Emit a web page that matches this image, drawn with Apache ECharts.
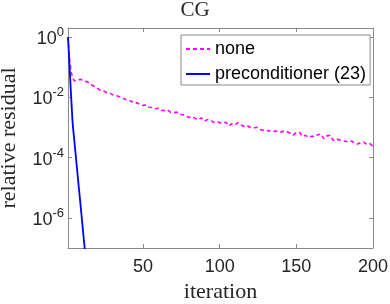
<!DOCTYPE html>
<html>
<head>
<meta charset="utf-8">
<script src="https://cdn.jsdelivr.net/npm/echarts@6/dist/echarts.min.js"></script>
<style>html,body{margin:0;padding:0;background:#fff;}#c{width:390px;height:304px;}</style>
</head>
<body>
<div id="c"></div>
<script>
// iteration numbers and log10(relative residual)
const noneIter = [1,2,3,4,5,6,7,8,9,10,12,14,16,18,20,22,24,26,28,30,32,34,36,38,40,42,44,46,48,50,
  52,54,56,58,60,62,64,66,68,70,72,74,76,78,80,82,84,86,88,90,92,94,96,98,100,
  102,104,106,108,110,112,114,116,118,120,122,124,126,128,130,132,134,136,138,140,
  142,144,146,148,150,152,154,156,158,160,162,164,166,168,170,172,174,176,178,180,
  182,184,186,188,190,192,194,196,198,200];
const noneLog10 = [0,-0.72,-1.15,-1.33,-1.45,-1.47,-1.44,-1.41,-1.40,-1.41,-1.45,-1.50,-1.58,-1.63,-1.70,-1.76,-1.78,-1.84,-1.86,-1.91,
  -1.92,-1.97,-2.00,-2.06,-2.10,-2.12,-2.19,-2.18,-2.24,-2.27,
  -2.25,-2.33,-2.34,-2.38,-2.36,-2.43,-2.44,-2.41,-2.50,-2.51,-2.49,-2.57,-2.58,-2.62,-2.67,-2.64,-2.70,-2.74,-2.68,-2.79,-2.74,-2.76,-2.83,-2.80,-2.84,
  -2.86,-2.83,-2.95,-2.87,-2.91,-2.84,-2.92,-2.97,-2.94,-3.00,-3.02,-2.99,-3.06,-3.09,-3.07,-3.12,-3.10,-3.13,-3.11,-3.15,
  -3.12,-3.14,-3.19,-3.25,-3.17,-3.16,-3.30,-3.26,-3.33,-3.29,-3.31,-3.24,-3.22,-3.38,-3.28,-3.26,-3.43,-3.38,-3.41,-3.44,
  -3.46,-3.48,-3.45,-3.52,-3.55,-3.50,-3.49,-3.57,-3.54,-3.62];
const precIter = [1,2,3,4,5,6,7,8,9,10,11,12];
const precLog10 = [0,-0.98,-1.93,-2.85,-3.38,-3.90,-4.43,-4.96,-5.48,-6.01,-6.54,-7.07];
const xTicks = [50,100,150,200];
const yTickExp = [-6,-4,-2,0];
const seriesNames = ['none','preconditioner (23)'];

const pair = (xs, ys) => xs.map((x, i) => [x, ys[i]]);
const axisGray = '#8a8a8a';
const txt = '#262626';
const X_MIN = 1, X_MAX = 200, Y_MIN = -7, Y_MAX = Math.log10(2);

const baseX = (pos, labels) => ({
  type: 'value', position: pos, min: X_MIN, max: X_MAX,
  axisLine: {show: true, onZero: false, lineStyle: {color: axisGray, width: 1}},
  axisTick: {show: true, inside: true, length: 4, customValues: xTicks, lineStyle: {color: axisGray}},
  axisLabel: labels ? {show: true, customValues: xTicks, color: txt, fontSize: 18, fontFamily: 'Liberation Sans', margin: 10} : {show: false},
  splitLine: {show: false}
});
const baseY = (pos, labels) => ({
  type: 'value', position: pos, min: Y_MIN, max: Y_MAX,
  axisLine: {show: true, onZero: false, lineStyle: {color: axisGray, width: 1}},
  axisTick: {show: true, inside: true, length: 4, customValues: yTickExp, lineStyle: {color: axisGray}},
  axisLabel: labels ? {
    show: true, customValues: yTickExp, margin: 4,
    formatter: v => '{b|10}{s|' + Math.round(v) + '}',
    rich: {
      b: {fontSize: 18, fontFamily: 'Liberation Sans', color: txt, lineHeight: 22, verticalAlign: 'bottom'},
      s: {fontSize: 13, fontFamily: 'Liberation Sans', color: txt, lineHeight: 13, verticalAlign: 'top'}
    }
  } : {show: false},
  splitLine: {show: false}
});

const xb = baseX('bottom', true);
xb.name = 'iteration';
xb.nameLocation = 'middle';
xb.nameGap = 31;
xb.nameTextStyle = {fontFamily: 'Liberation Serif', fontSize: 22, color: txt};
const yl = baseY('left', true);
yl.name = 'relative residual';
yl.nameLocation = 'middle';
yl.nameGap = 48;
yl.nameTextStyle = {fontFamily: 'Liberation Serif', fontSize: 22, color: txt};

const chart = echarts.init(document.getElementById('c'), null, {renderer: 'canvas'});
chart.setOption({
  animation: false,
  backgroundColor: '#fff',
  title: {text: 'CG', left: 'center', top: 0, padding: 0,
    textStyle: {fontFamily: 'Liberation Serif', fontSize: 21, fontWeight: 'normal', color: txt}},
  grid: {left: 68, right: 17, top: 28, bottom: 56, containLabel: false, outerBoundsMode: 'none'},
  legend: {
    orient: 'vertical', left: 181, top: 35, padding: [5, 4, 2, 4],
    itemWidth: 24, itemHeight: 12, itemGap: 7,
    backgroundColor: '#fff', borderColor: axisGray, borderWidth: 1,
    itemStyle: {opacity: 0},
    textStyle: {fontFamily: 'Liberation Sans', fontSize: 18, color: '#000'},
    data: seriesNames
  },
  xAxis: [xb, baseX('top', false)],
  yAxis: [yl, baseY('right', false)],
  series: [
    {name: seriesNames[0], type: 'line', xAxisIndex: 0, yAxisIndex: 0, data: pair(noneIter, noneLog10),
      symbol: 'none', color: '#ff00ff', lineStyle: {color: '#ff00ff', width: 1.6, type: [4, 3]}},
    {name: seriesNames[1], type: 'line', xAxisIndex: 0, yAxisIndex: 0, data: pair(precIter, precLog10),
      symbol: 'none', color: '#0000ff', lineStyle: {color: '#0000ff', width: 1.8}}
  ]
});
</script>
</body>
</html>
